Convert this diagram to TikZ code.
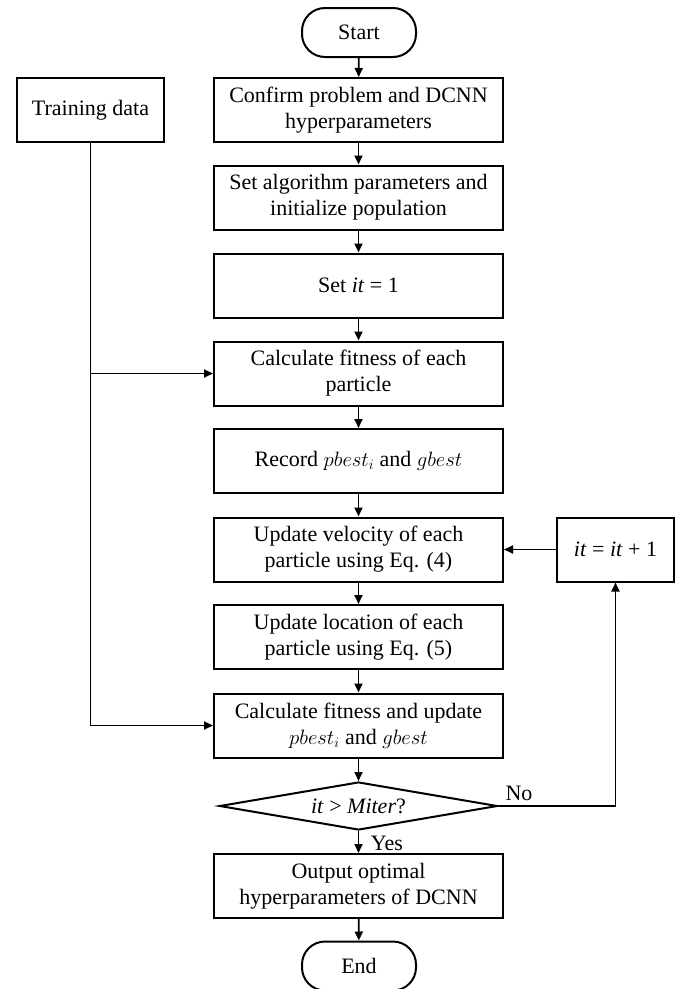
\documentclass[tikz,border=0pt]{standalone}
\usepackage{fontspec}
\setmainfont{Liberation Serif}
\usetikzlibrary{arrows.meta,shapes.geometric}
\begin{document}
\begin{tikzpicture}[x=1pt,y=-1pt,
  every node/.style={font=\fontsize{22}{26}\selectfont},
  box/.style={draw, line width=2pt, minimum width=289pt, minimum height=64pt,
    align=center, inner sep=0pt},
  sidebox/.style={box, minimum width=#1},
  term/.style={draw, line width=2pt, minimum width=114pt, minimum height=49pt,
    rounded corners=23pt, inner sep=0pt},
  decision/.style={draw, line width=2pt, diamond, shape aspect=5.8,
    minimum width=278pt, minimum height=48pt, inner sep=0pt},
  link/.style={line width=1.8pt, -{Triangle[length=9pt,width=8pt]}},
  tag/.style={inner sep=0pt}
  ]
\useasboundingbox (0,0) rectangle (680,989);

% main column
\node[term] (start) at (359,32.5) {Start};
\node[box] (b1) at (358.5,110) {Confirm problem and DCNN\\hyperparameters};
\node[box] (b2) at (358.5,197.5) {Set algorithm parameters and\\initialize population};
\node[box] (b3) at (358.5,285.5) {Set \textit{it} = 1};
\node[box] (b4) at (358.5,373.5) {Calculate fitness of each\\particle};
\node[box] (b5) at (358.5,461) {Record $pbest_i$ and $gbest$};
\node[box] (b6) at (358.5,549.5) {Update velocity of each\\particle using Eq. (4)};
\node[box] (b7) at (358.5,637) {Update location of each\\particle using Eq. (5)};
\node[box] (b8) at (358.5,725.5) {Calculate fitness and update\\$pbest_i$ and $gbest$};
\node[decision] (dec) at (358.5,806) {\textit{it} > \textit{Miter}?};
\node[box] (b9) at (358.5,886) {Output optimal\\hyperparameters of DCNN};
\node[term] (end) at (359,966) {End};

% side boxes
\node[sidebox=147pt] (train) at (90.5,110) {Training data};
\node[sidebox=117pt] (inc) at (615.5,549.5) {\textit{it} = \textit{it} + 1};

% labels of the decision
\node[tag] (no) at (519,793) {No};
\node[tag] (yes) at (387,843) {Yes};

% flow
\draw[link] (start) -- (b1);
\draw[link] (b1) -- (b2);
\draw[link] (b2) -- (b3);
\draw[link] (b3) -- (b4);
\draw[link] (b4) -- (b5);
\draw[link] (b5) -- (b6);
\draw[link] (b6) -- (b7);
\draw[link] (b7) -- (b8);
\draw[link] (b8) -- (dec);
\draw[link] (dec) -- (b9);
\draw[link] (b9) -- (end);

% training data feeds both fitness evaluations
\draw[link] (train.south) |- (b8.west);
\draw[link] (train.south |- b4.west) -- (b4.west);

% iteration loop
\draw[link] (dec.east) -| (inc.south);
\draw[link] (inc.west) -- (b6.east);
\end{tikzpicture}
\end{document}
